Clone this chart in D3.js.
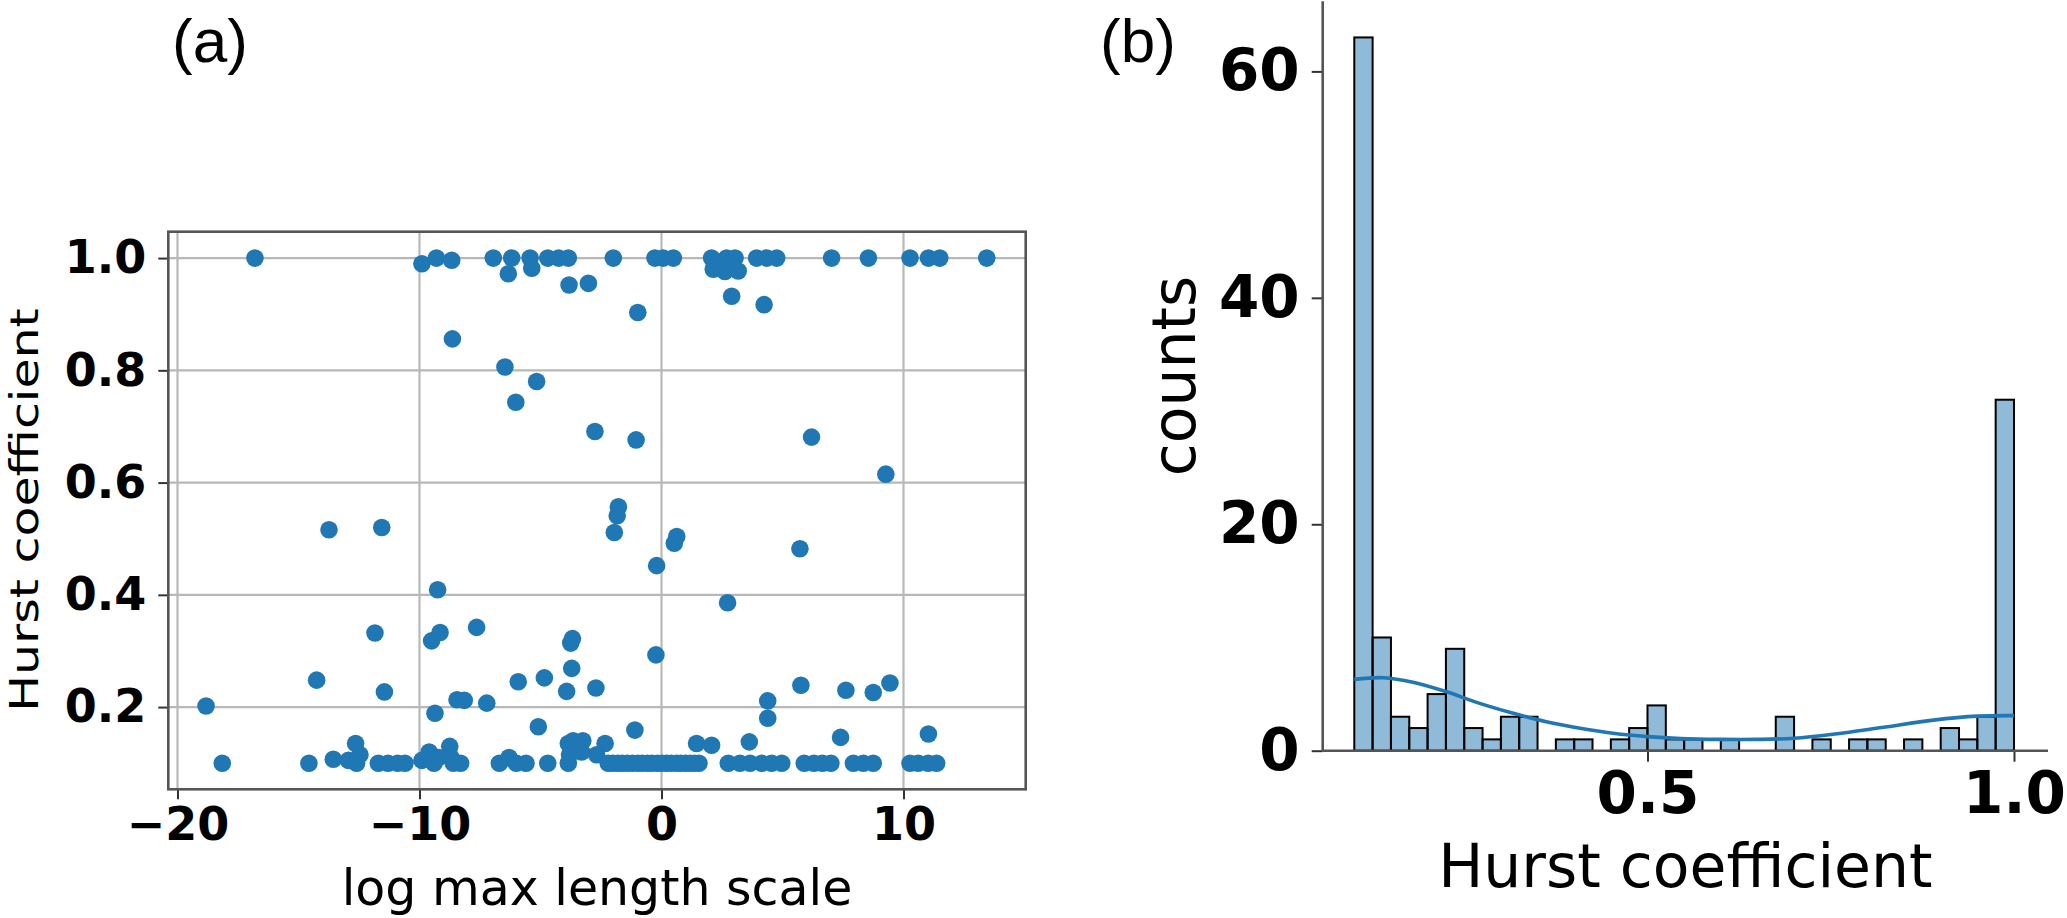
<!DOCTYPE html>
<html>
<head>
<meta charset="utf-8">
<script src="https://cdn.jsdelivr.net/npm/d3@7"></script>
<style>
  html, body { margin: 0; padding: 0; background: #ffffff; }
  svg { display: block; }
</style>
</head>
<body>
<div id="chart"></div>
<script>
// ---------------- DATA ----------------
// Panel (a): scatter — log max length scale vs Hurst coefficient
const logScale = [
  -16.8, -9.9, -9.3, -8.67, -6.95, -6.19, -5.43, -5.36, -4.7, -4.25, -3.85, -1.99, -0.27, 0.07, 0.49,
  2.07, 2.14, 2.42, 2.62, 2.69, 3.04, 3.17, 3.93, 4.35, 4.76, 7.03, 8.55, 10.27, 11.03, 11.5, 13.44,
  -6.33, -3.82, -3.02,
  2.9, -0.98, 4.24, -8.64, -6.47, -5.16, -6.02, -2.75, -1.05, 6.2, 9.27, -1.78, -1.83, -1.95, 0.63,
  -13.74, -11.56, 0.53, 5.72, -0.2, -9.25, 2.73,
  -11.84, -9.15, -7.64,
  -9.5, -3.75, -3.68,
  -0.23,
  -4.84, -3.71,
  -14.25, -11.45, -5.92, -3.92, -2.71, 5.76, 7.62, 8.75, 9.44,
  -18.82, -8.45, -8.15, -7.22, 4.39,
  -9.36, 4.39,
  -5.09, -1.1, 11.03,
  -12.64, -8.75, 1.45, 2.07, 3.63, 7.4, -2.33, -3.85, -3.65, -3.25,
  -18.15, -14.57, -13.56, -12.94, -12.46, -12.6, -11.7, -11.3, -10.9, -10.6, -9.9, -9.6, -9.4, -9.2,
  -8.7, -8.6, -8.3, -6.7, -6.3, -6.0, -5.6, -4.7, -3.85, -3.8,
  -3.3, -2.68,
  -2.2, -2.02, -1.8, -1.62, -1.41, -1.2, -0.97, -0.8, -0.58, -0.4, -0.17, 0.02, 0.21, 0.4, 0.63, 0.8,
  1.0, 1.18, 1.37, 1.55,
  2.76, 3.24, 3.66, 4.14, 4.55, 4.97, 5.9, 6.3, 6.65, 7.0, 7.93, 8.34, 8.75, 10.27, 10.61, 11.02, 11.37
];
const hurst = [
  1.0, 0.99, 1.0, 0.996, 1.0, 1.0, 1.0, 0.982, 1.0, 1.0, 1.0, 1.0, 1.0, 1.0, 1.0,
  1.0, 0.98, 0.985, 0.976, 1.0, 1.0, 0.977, 1.0, 1.0, 1.0, 1.0, 1.0, 1.0, 1.0, 1.0, 1.0,
  0.972, 0.952, 0.955,
  0.932, 0.903, 0.917, 0.856, 0.806, 0.78, 0.743, 0.691, 0.676, 0.681, 0.615, 0.557, 0.541, 0.511, 0.504,
  0.516, 0.52, 0.492, 0.482, 0.452, 0.409, 0.386,
  0.332, 0.333, 0.342,
  0.318, 0.314, 0.322,
  0.293,
  0.252, 0.269,
  0.248, 0.227, 0.245, 0.228, 0.234, 0.239, 0.23, 0.226, 0.243,
  0.202, 0.213, 0.212, 0.207, 0.211,
  0.189, 0.18,
  0.165, 0.159, 0.152,
  0.135, 0.13, 0.135, 0.132, 0.138, 0.146, 0.135, 0.135, 0.14, 0.14,
  0.1, 0.1, 0.107, 0.105, 0.115, 0.1, 0.1, 0.1, 0.1, 0.1, 0.105, 0.12, 0.1, 0.11,
  0.11, 0.1, 0.1, 0.1, 0.11, 0.1, 0.1, 0.1, 0.1, 0.115,
  0.12, 0.115,
  0.1, 0.1, 0.1, 0.1, 0.1, 0.1, 0.1, 0.1, 0.1, 0.1, 0.1, 0.1, 0.1, 0.1, 0.1, 0.1,
  0.1, 0.1, 0.1, 0.1,
  0.1, 0.1, 0.1, 0.1, 0.1, 0.1, 0.1, 0.1, 0.1, 0.1, 0.1, 0.1, 0.1, 0.1, 0.1, 0.1, 0.1
];
const xTicksA = [-20, -10, 0, 10];
const yTicksA = [0.2, 0.4, 0.6, 0.8, 1.0];

// Panel (b): histogram of Hurst coefficient (36 bins of width 0.025 from 0.1 to 1.0)
const binLeft = [0.1, 0.125, 0.15, 0.175, 0.2, 0.225, 0.25, 0.275, 0.3, 0.325, 0.35, 0.375,
                 0.4, 0.425, 0.45, 0.475, 0.5, 0.525, 0.55, 0.575, 0.6, 0.625, 0.65, 0.675,
                 0.7, 0.725, 0.75, 0.775, 0.8, 0.825, 0.85, 0.875, 0.9, 0.925, 0.95, 0.975];
const binRight = [0.125, 0.15, 0.175, 0.2, 0.225, 0.25, 0.275, 0.3, 0.325, 0.35, 0.375, 0.4,
                  0.425, 0.45, 0.475, 0.5, 0.525, 0.55, 0.575, 0.6, 0.625, 0.65, 0.675, 0.7,
                  0.725, 0.75, 0.775, 0.8, 0.825, 0.85, 0.875, 0.9, 0.925, 0.95, 0.975, 1.0];
const counts = [63, 10, 3, 2, 5, 9, 2, 1, 3, 3, 0, 1, 1, 0, 1, 2, 4, 1, 1, 0, 1, 0, 0, 3,
                0, 1, 0, 1, 1, 0, 1, 0, 2, 1, 3, 31];
// KDE curve (scaled to counts)
const kdeX = [0.1, 0.14, 0.18, 0.226, 0.27, 0.317, 0.362, 0.408, 0.453, 0.5, 0.545, 0.6, 0.65, 0.7, 0.753, 0.82, 0.89, 0.95, 1.0];
const kdeY = [6.3, 6.45, 6.05, 5.2, 4.2, 3.3, 2.55, 1.98, 1.54, 1.24, 1.07, 1.0, 1.0, 1.1, 1.45, 2.05, 2.7, 3.05, 3.1];
const xTicksB = [0.5, 1.0];
const yTicksB = [0, 20, 40, 60];

// ---------------- DRAW ----------------
const W = 2067, H = 918;
const svg = d3.select("#chart").append("svg").attr("width", W).attr("height", H)
  .style("font-family", "'DejaVu Sans', sans-serif");

const blue = "#1f77b4";
const spineCol = "#555555";
const gridCol = "#b8b8b8";

// ---- Panel (a) ----
const A = { left: 168.3, right: 1025.7, top: 231.7, bottom: 789.3 };
const xA = d3.scaleLinear().domain([-20.38, 15.05]).range([A.left, A.right]);
const yA = d3.scaleLinear().domain([0.0535, 1.047]).range([A.bottom, A.top]);

const gA = svg.append("g");
// grid
gA.append("g").selectAll("line").data(xTicksA).join("line")
  .attr("x1", d => xA(d)).attr("x2", d => xA(d)).attr("y1", A.top).attr("y2", A.bottom)
  .attr("stroke", gridCol).attr("stroke-width", 2.2);
gA.append("g").selectAll("line").data(yTicksA).join("line")
  .attr("y1", d => yA(d)).attr("y2", d => yA(d)).attr("x1", A.left).attr("x2", A.right)
  .attr("stroke", gridCol).attr("stroke-width", 2.2);

// axes
const axisBottomA = d3.axisBottom(xA).tickValues(xTicksA).tickSize(10).tickPadding(8)
  .tickFormat(d => d3.format("d")(d).replace("-", "\u2212"));
const axisLeftA = d3.axisLeft(yA).tickValues(yTicksA).tickSize(10).tickPadding(12)
  .tickFormat(d3.format(".1f"));
const gxA = gA.append("g").attr("transform", `translate(0,${A.bottom})`).call(axisBottomA);
const gyA = gA.append("g").attr("transform", `translate(${A.left},0)`).call(axisLeftA);
[gxA, gyA].forEach(g => {
  g.select(".domain").remove();
  g.selectAll(".tick line").attr("stroke", "#333").attr("stroke-width", 2);
  g.selectAll(".tick text").attr("fill", "#000").style("font-size", "46px")
    .style("font-weight", "bold").style("font-family", "'DejaVu Sans', sans-serif");
});
gxA.selectAll(".tick text").attr("dy", "0.72em");

// points
gA.append("g").selectAll("circle").data(d3.range(logScale.length)).join("circle")
  .attr("cx", i => xA(logScale[i])).attr("cy", i => yA(hurst[i])).attr("r", 8.8)
  .attr("fill", blue);

// frame
gA.append("rect").attr("x", A.left).attr("y", A.top)
  .attr("width", A.right - A.left).attr("height", A.bottom - A.top)
  .attr("fill", "none").attr("stroke", spineCol).attr("stroke-width", 2.6);

// labels
gA.append("text").attr("x", (A.left + A.right) / 2).attr("y", 905)
  .attr("text-anchor", "middle").style("font-size", "49px").attr("fill", "#000")
  .text("log max length scale");
gA.append("text").attr("transform", "translate(38,510) rotate(-90) scale(1,0.8)")
  .attr("text-anchor", "middle").style("font-size", "49px").attr("fill", "#000")
  .text("Hurst coefficient");
svg.append("text").attr("x", 172).attr("y", 62)
  .style("font-family", "'Liberation Sans', Arial, sans-serif").style("font-size", "62px")
  .attr("fill", "#000").text("(a)");

// ---- Panel (b) ----
const B = { left: 1322.7, right: 2048, top: 1.2, bottom: 750.7 };
const xB = d3.scaleLinear().domain([0.0569, 1.0464]).range([B.left, B.right]);
const yB = d3.scaleLinear().domain([0, 66.2]).range([B.bottom, B.top]);
const gB = svg.append("g");

// bars
gB.append("g").selectAll("rect").data(d3.range(counts.length).filter(i => counts[i] > 0)).join("rect")
  .attr("x", i => xB(binLeft[i])).attr("width", i => xB(binRight[i]) - xB(binLeft[i]))
  .attr("y", i => yB(counts[i])).attr("height", i => yB(0) - yB(counts[i]))
  .attr("fill", blue).attr("fill-opacity", 0.5)
  .attr("stroke", "#000").attr("stroke-width", 2);

// kde
const kdeLine = d3.line().x(i => xB(kdeX[i])).y(i => yB(kdeY[i])).curve(d3.curveCatmullRom.alpha(0.5));
gB.append("path").datum(d3.range(kdeX.length)).attr("d", kdeLine)
  .attr("fill", "none").attr("stroke", blue).attr("stroke-width", 3.6);

// axes
const axisBottomB = d3.axisBottom(xB).tickValues(xTicksB).tickSize(11).tickPadding(10)
  .tickFormat(d3.format(".1f"));
const axisLeftB = d3.axisLeft(yB).tickValues(yTicksB).tickSize(11).tickPadding(12)
  .tickFormat(d3.format("d"));
const gxB = gB.append("g").attr("transform", `translate(0,${B.bottom})`).call(axisBottomB);
const gyB = gB.append("g").attr("transform", `translate(${B.left},0)`).call(axisLeftB);
[gxB, gyB].forEach(g => {
  g.select(".domain").remove();
  g.selectAll(".tick line").attr("stroke", "#333").attr("stroke-width", 2);
  g.selectAll(".tick text").attr("fill", "#000").style("font-size", "58px")
    .style("font-weight", "bold").style("font-family", "'DejaVu Sans', sans-serif");
});
gxB.selectAll(".tick text").attr("dy", "0.72em");

// spines (left, bottom)
gB.append("line").attr("x1", B.left).attr("x2", B.left).attr("y1", B.top).attr("y2", B.bottom)
  .attr("stroke", spineCol).attr("stroke-width", 2.6);
gB.append("line").attr("x1", B.left).attr("x2", B.right).attr("y1", B.bottom).attr("y2", B.bottom)
  .attr("stroke", spineCol).attr("stroke-width", 2.6);

// labels
gB.append("text").attr("x", (B.left + B.right) / 2).attr("y", 887)
  .attr("text-anchor", "middle").style("font-size", "60px").attr("fill", "#000")
  .text("Hurst coefficient");
gB.append("text").attr("transform", `translate(1195,${(B.top + B.bottom) / 2}) rotate(-90)`)
  .attr("text-anchor", "middle").style("font-size", "60px").attr("fill", "#000")
  .text("counts");
svg.append("text").attr("x", 1100).attr("y", 62)
  .style("font-family", "'Liberation Sans', Arial, sans-serif").style("font-size", "62px")
  .attr("fill", "#000").text("(b)");
</script>
</body>
</html>
